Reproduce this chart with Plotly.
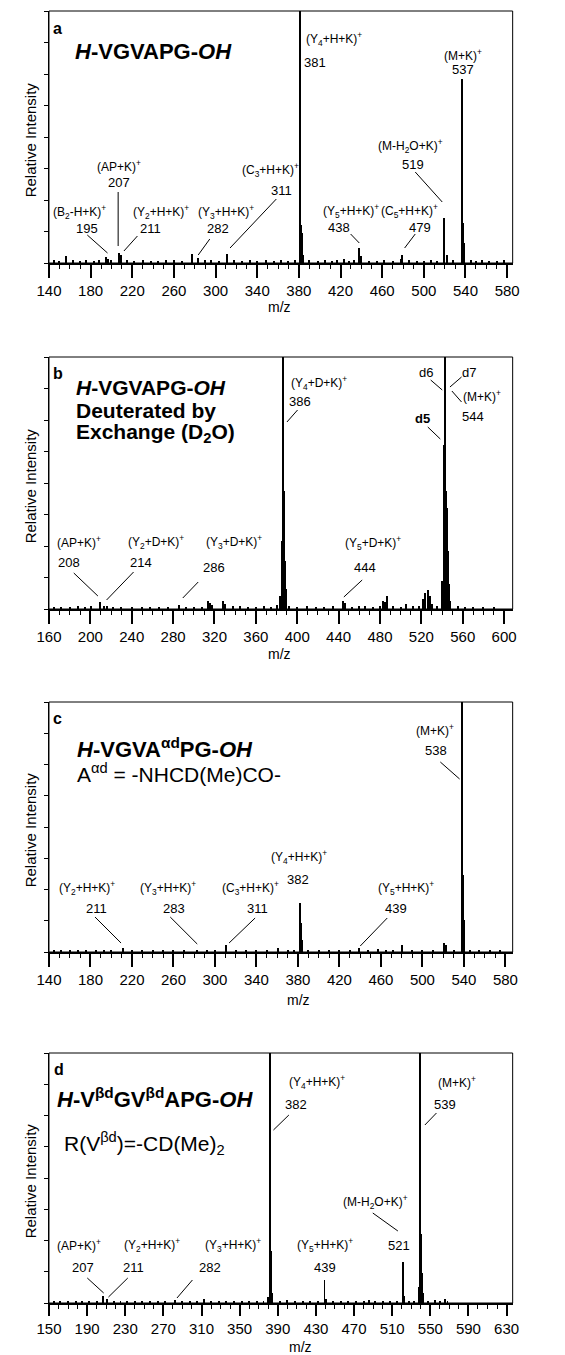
import plotly.graph_objects as go
from plotly.subplots import make_subplots

# ---------------- data (m/z, relative intensity %) ----------------
mz_a = [145, 150, 156, 163, 170, 176, 183, 188, 195, 197,
        200, 207, 209, 215, 222, 230, 238, 245, 252, 260,
        268, 277, 283, 290, 296, 303, 311, 318, 325, 333,
        340, 348, 356, 363, 370, 376, 381, 382, 383, 384,
        390, 398, 405, 412, 417, 423, 428, 433, 438, 440,
        447, 455, 462, 470, 478, 479, 486, 493, 500, 507,
        513, 519, 522, 528, 537, 538, 539, 545, 550, 556,
        563, 570, 577]
int_a = [1.0, 0.8, 2.6, 1.2, 0.9, 1.0, 0.7, 1.1, 2.4, 1.5,
         1.3, 4.0, 3.3, 1.2, 0.8, 1.0, 0.9, 0.8, 1.0, 1.1,
         0.9, 3.7, 2.0, 1.0, 1.2, 0.8, 3.7, 1.0, 0.9, 1.1,
         0.8, 1.0, 0.9, 1.2, 0.8, 1.0, 100, 15, 12, 3,
         1.1, 0.9, 1.0, 0.8, 1.2, 1.5, 0.9, 1.0, 6.0, 2.6,
         0.8, 0.9, 1.1, 0.8, 1.5, 3.3, 1.0, 0.9, 0.8, 1.0,
         0.9, 18, 3.0, 1.0, 73, 16, 8, 1.2, 0.9, 1.0,
         0.8, 0.9, 1.0]

mz_b = [165, 172, 180, 188, 195, 201, 209, 213, 216, 222,
        230, 240, 250, 258, 266, 275, 286, 292, 300, 308,
        314, 316, 318, 328, 330, 338, 345, 352, 360, 368,
        375, 380, 383, 385, 386, 387, 388, 389, 392, 400,
        409, 418, 426, 435, 444, 446, 453, 460, 466, 473,
        480, 483, 485, 487, 493, 500, 505, 512, 518, 522,
        524, 526, 528, 530, 535, 540, 542, 543, 544, 545,
        546, 547, 548, 555, 562, 570, 580, 590]
int_b = [0.8, 0.9, 0.7, 1.0, 0.8, 1.0, 2.6, 1.3, 1.0, 0.8,
         0.7, 0.8, 0.9, 0.7, 0.8, 0.9, 1.7, 0.8, 0.7, 0.9,
         3.0, 2.5, 1.5, 3.3, 2.0, 1.0, 1.2, 0.9, 0.8, 1.0,
         0.9, 1.5, 5.0, 27, 100, 47, 19, 8, 1.2, 0.9,
         1.3, 0.9, 0.8, 1.0, 3.0, 2.5, 0.8, 1.0, 1.3, 0.8,
         1.0, 3.0, 2.8, 5.3, 1.0, 0.9, 1.8, 1.0, 1.2, 4.0,
         6.5, 7.6, 5.0, 2.0, 1.0, 11, 65, 100, 47, 40,
         23, 10, 3, 1.3, 0.8, 0.9, 0.7, 0.8]

mz_c = [145, 152, 160, 168, 176, 185, 193, 200, 211, 220,
        230, 240, 250, 260, 270, 283, 292, 300, 311, 320,
        330, 340, 350, 361, 370, 376, 382, 383, 384, 390,
        400, 410, 420, 430, 439, 448, 457, 465, 472, 480,
        490, 500, 510, 521, 523, 530, 538, 539, 540, 546,
        555, 565, 575]
int_c = [0.6, 0.5, 0.6, 0.5, 0.6, 0.5, 0.6, 0.5, 1.5, 0.6,
         0.5, 0.6, 0.5, 0.6, 0.5, 1.0, 0.5, 0.6, 2.7, 0.6,
         0.5, 0.6, 0.7, 1.5, 0.6, 0.7, 19.7, 11.6, 4.7, 0.8,
         0.6, 0.5, 0.6, 0.5, 1.5, 0.6, 1.3, 0.6, 0.5, 2.7,
         0.6, 0.5, 0.6, 3.7, 2.7, 0.6, 100, 31, 13, 0.7,
         0.6, 0.5, 0.6]

mz_d = [155, 162, 170, 178, 185, 192, 200, 207, 211, 218,
        225, 232, 240, 248, 256, 264, 272, 282, 290, 298,
        305, 313, 320, 328, 336, 344, 352, 360, 368, 375,
        380, 382, 383, 384, 392, 400, 408, 416, 424, 432,
        439, 441, 448, 456, 464, 472, 480, 486, 492, 500,
        508, 515, 521, 522, 528, 533, 538, 539, 540, 541,
        542, 548, 555, 560, 565, 568]
int_d = [0.8, 1.0, 0.8, 0.9, 1.0, 0.8, 1.0, 3.0, 1.5, 0.8,
         1.0, 0.8, 0.9, 0.8, 1.0, 0.8, 0.9, 1.3, 1.0, 0.8,
         1.0, 1.6, 0.8, 0.9, 1.0, 0.8, 0.9, 0.8, 1.0, 0.9,
         2.5, 100, 21, 4, 1.0, 1.2, 0.9, 0.8, 1.0, 0.9,
         9.4, 1.5, 0.8, 1.0, 0.8, 0.9, 1.0, 1.3, 0.9, 0.8,
         1.0, 0.9, 16.4, 3.0, 0.8, 1.0, 6.4, 100, 27.5, 12,
         4, 1.0, 1.2, 1.0, 1.5, 1.0]

x_ranges = [[140, 585.3], [160, 608.3], [140, 587.0], [150, 636.4]]
x_tick0 = [140, 160, 140, 150]

spectra = [(mz_a, int_a), (mz_b, int_b), (mz_c, int_c), (mz_d, int_d)]

# ---------------- layout geometry (pixels) ----------------
W, H = 565, 1355
X_LEFT, X_RIGHT = 37.3, 518.0
panels_px = [(11, 263), (357, 609), (702, 952), (1053, 1303)]  # (top, bottom)
mz_title_px = [(276, 307), (276, 654), (296, 1000), (298, 1347)]


def P(x, y):
    return x / W, 1 - y / H


FONT = "Liberation Sans, Arial, Helvetica, sans-serif"

fig = make_subplots(rows=4, cols=1)

for i, (mz, inten) in enumerate(spectra):
    assert len(mz) == len(inten)
    fig.add_trace(go.Bar(x=mz, y=inten, width=1.0,
                         marker=dict(color="black", line=dict(width=0)),
                         showlegend=False, hoverinfo="x+y"),
                  row=i + 1, col=1)

layout_upd = {}
for i, (top, bot) in enumerate(panels_px):
    k = "" if i == 0 else str(i + 1)
    layout_upd["xaxis" + k] = dict(
        domain=[X_LEFT / W, X_RIGHT / W], range=x_ranges[i],
        tickmode="linear", tick0=x_tick0[i], dtick=40,
        ticks="outside", ticklen=13 if i < 3 else 11, tickwidth=2, tickcolor="black",
        showline=True, linewidth=2, linecolor="black",
        showgrid=False, zeroline=False,
        tickfont=dict(family=FONT, size=15, color="black"),
        minor=dict(dtick=10, ticks="outside", ticklen=4, tickwidth=1,
                   tickcolor="black", showgrid=False),
    )
    layout_upd["yaxis" + k] = dict(
        domain=[1 - bot / H, 1 - top / H], range=[0, 100],
        tickmode="linear", tick0=0, dtick=12.5,
        ticks="outside", ticklen=4, tickwidth=1, tickcolor="black",
        showticklabels=False, showline=True, linewidth=1, linecolor="black",
        showgrid=False, zeroline=False,
    )

# ---------------- annotations ----------------
ann = []


def T(text, x, y, size=12, xanchor="center", angle=0):
    ax, ay = P(x, y)
    ann.append(dict(text=text, x=ax, y=ay, xref="paper", yref="paper",
                    xanchor=xanchor, yanchor="middle", showarrow=False,
                    textangle=angle, borderpad=0,
                    font=dict(family=FONT, size=size, color="black")))


lines = []


def L(x0, y0, x1, y1):
    a0, b0 = P(x0, y0)
    a1, b1 = P(x1, y1)
    lines.append(dict(type="line", xref="paper", yref="paper",
                      x0=a0, y0=b0, x1=a1, y1=b1,
                      line=dict(color="black", width=1)))


N = 13  # size of the m/z numbers under the ion labels

# axis titles
for (top, bot), (mx, my) in zip(panels_px, mz_title_px):
    T("Relative Intensity", 18, (top + bot) / 2 + 3, size=15, angle=-90)
    T("m/z", mx, my, size=14)

# panel a
T("<b>a</b>", 46, 28, size=16)
T("<b><i>H</i>-VGVAPG-<i>OH</i></b>", 63, 51, size=22, xanchor="left")
T("(B<sub>2</sub>-H+K)<sup>+</sup>", 69, 212); T("195", 77, 229, N); L(77, 235, 98, 253)
T("(AP+K)<sup>+</sup>", 110, 166); T("207", 110, 183, N); L(109, 192, 109, 246)
T("(Y<sub>2</sub>+H+K)<sup>+</sup>", 153, 212); T("211", 143, 229, N); L(129, 236, 115, 251)
T("(Y<sub>3</sub>+H+K)<sup>+</sup>", 221, 212); T("282", 213, 229, N); L(204, 239, 192, 255)
T("(C<sub>3</sub>+H+K)<sup>+</sup>", 267, 170); T("311", 278, 191, N); L(273, 199, 225, 248)
T("(Y<sub>4</sub>+H+K)<sup>+</sup>", 333, 39); T("381", 313, 62, N)
T("(M+K)<sup>+</sup>", 467, 55); T("537", 467, 70, N)
T("(M-H<sub>2</sub>O+K)<sup>+</sup>", 412, 146); T("519", 415, 164, N); L(417, 172, 445, 202)
T("(Y<sub>5</sub>+H+K)<sup>+</sup>", 350, 211); T("438", 338, 228, N); L(350, 234, 359, 243)
T("(C<sub>5</sub>+H+K)<sup>+</sup>", 411, 211); T("479", 422, 228, N); L(417, 234, 406, 248)

# panel b
T("<b>b</b>", 47, 373, size=16)
T("<b><i>H</i>-VGVAPG-<i>OH</i></b>", 64, 387, size=21, xanchor="left")
T("<b>Deuterated by</b>", 64, 410, size=21, xanchor="left")
T("<b>Exchange (D<sub>2</sub>O)</b>", 64, 433, size=21, xanchor="left")
T("(Y<sub>4</sub>+D+K)<sup>+</sup>", 317, 383); T("386", 298, 402, N); L(295, 410, 284, 422)
T("d6", 428, 372, N); L(433, 380, 445, 390)
T("d7", 473, 372, N); L(465, 377, 453, 387)
T("(M+K)<sup>+</sup>", 486, 396); T("544", 477, 416, N); L(455, 391, 465, 402)
T("<b>d5</b>", 425, 418, N); L(430, 427, 443, 439)
T("(AP+K)<sup>+</sup>", 68, 542); T("208", 58, 563, N); L(63, 573, 88, 596)
T("(Y<sub>2</sub>+D+K)<sup>+</sup>", 148, 542); T("214", 133, 563, N); L(125, 572, 97, 600)
T("(Y<sub>3</sub>+D+K)<sup>+</sup>", 229, 542); T("286", 208, 567, N); L(192, 582, 176, 598)
T("(Y<sub>5</sub>+D+K)<sup>+</sup>", 373, 543); T("444", 365, 567, N); L(362, 580, 343, 597)

# panel c
T("<b>c</b>", 46, 718, size=16)
T("<b><i>H</i>-VGVA<sup>αd</sup>PG-<i>OH</i></b>", 65, 748, size=22, xanchor="left")
T("A<sup>αd</sup> = -NHCD(Me)CO-", 65, 773, size=21, xanchor="left")
T("(M+K)<sup>+</sup>", 438, 730); T("538", 439, 750, N); L(443, 762, 463, 779)
T("(Y<sub>4</sub>+H+K)<sup>+</sup>", 296, 857); T("382", 295, 879, N)
T("(Y<sub>2</sub>+H+K)<sup>+</sup>", 77, 888); T("211", 87, 908, N); L(85, 917, 112, 943)
T("(Y<sub>3</sub>+H+K)<sup>+</sup>", 161, 888); T("283", 167, 908, N); L(163, 917, 191, 944)
T("(C<sub>3</sub>+H+K)<sup>+</sup>", 246, 888); T("311", 253, 908, N); L(251, 918, 224, 943)
T("(Y<sub>5</sub>+H+K)<sup>+</sup>", 407, 888); T("439", 397, 908, N); L(388, 918, 360, 946)

# panel d
T("<b>d</b>", 48, 1069, size=16)
T("<b><i>H</i>-V<sup>βd</sup>GV<sup>βd</sup>APG-<i>OH</i></b>", 45, 1098, size=22, xanchor="left")
T("R(V<sup>βd</sup>)=-CD(Me)<sub>2</sub>", 52, 1143, size=21, xanchor="left")
T("(Y<sub>4</sub>+H+K)<sup>+</sup>", 315, 1082); T("382", 293, 1104, N); L(286, 1115, 270, 1130)
T("(M+K)<sup>+</sup>", 460, 1082); T("539", 448, 1104, N); L(439, 1113, 427, 1125)
T("(M-H<sub>2</sub>O+K)<sup>+</sup>", 376, 1202); T("521", 400, 1245, N); L(373, 1213, 399, 1231)
T("(AP+K)<sup>+</sup>", 68, 1245); T("207", 73, 1267, N); L(77, 1278, 94, 1293)
T("(Y<sub>2</sub>+H+K)<sup>+</sup>", 144, 1245); T("211", 125, 1267, N); L(119, 1278, 99, 1297)
T("(Y<sub>3</sub>+H+K)<sup>+</sup>", 228, 1245); T("282", 204, 1267, N); L(186, 1280, 170, 1298)
T("(Y<sub>5</sub>+H+K)<sup>+</sup>", 323, 1245); T("439", 323, 1267, N)

# frames
frames = []
for i in range(4):
    k = "" if i == 0 else str(i + 1)
    frames.append(dict(type="rect", xref="x" + k + " domain", yref="y" + k + " domain",
                       x0=0, x1=1, y0=0, y1=1, line=dict(color="black", width=1),
                       fillcolor="rgba(0,0,0,0)", layer="above"))

fig.update_layout(
    width=W, height=H, margin=dict(l=0, r=0, t=0, b=0),
    paper_bgcolor="white", plot_bgcolor="white",
    showlegend=False, bargap=0,
    annotations=ann, shapes=frames + lines,
    font=dict(family=FONT, color="black"),
    **layout_upd,
)

fig.write_html("out.html")
